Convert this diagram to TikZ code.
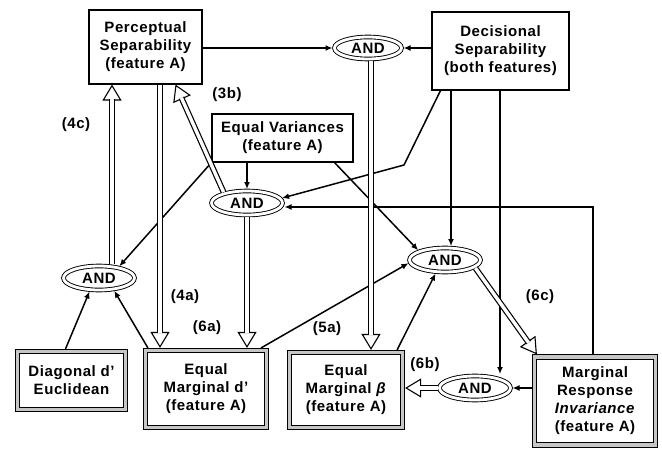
\documentclass[tikz,border=0pt]{standalone}
\usepackage{fontspec}
\setmainfont{Liberation Sans}[LetterSpace=4]
\usetikzlibrary{arrows.meta,shapes.geometric,calc}
\newcommand\hol[2]{%
  \draw[line width=1.1pt,-{Triangle[length=16pt,width=19pt,fill=white]}] #1 -- #2;
  \draw[line width=1.2pt,double=white,double distance=3.4pt,shorten >=14.5pt] #1 -- #2;
}
\begin{document}
\begin{tikzpicture}[x=1pt,y=-1pt,
  every node/.style={font=\bfseries\fontsize{15}{18}\selectfont, align=center, inner sep=0pt},
  box/.style={draw, line width=1.1pt, rectangle},
  fbox/.style={draw, line width=0.9pt, double=gray!45, double distance=3.6pt, rectangle, outer sep=2.6pt},
  andn/.style={ellipse, draw, line width=0.9pt, double, double distance=2.8pt, minimum width=71pt, minimum height=24pt, outer sep=2pt},
  arr/.style={line width=1.5pt, -{Latex[length=7pt,width=6pt]}},
]
\useasboundingbox (0,0) rectangle (662,452);
% boxes
\node[box, minimum width=113pt, minimum height=74pt] (ps) at (145.5,47) {Perceptual\\Separability\\(feature A)};
\node[box, minimum width=137pt, minimum height=78pt] (ds) at (500.5,51) {Decisional\\Separability\\(both features)};
\node[box, minimum width=141pt, minimum height=48pt] (ev) at (282.5,138) {Equal Variances\\(feature A)};
\node[fbox, minimum width=108pt, minimum height=58pt] (dg) at (71.5,380.5) {Diagonal d'\\Euclidean};
\node[fbox, minimum width=121pt, minimum height=77pt] (eqd) at (206,389) {Equal\\Marginal d'\\(feature A)};
\node[fbox, minimum width=113pt, minimum height=75pt] (eqb) at (346,390) {Equal\\Marginal \textit{β}\\(feature A)};
\node[fbox, minimum width=121pt, minimum height=88pt] (mri) at (595,401) {Marginal\\Response\\\textit{Invariance}\\(feature A)};
% AND nodes
\node[andn, minimum width=67pt, minimum height=22pt] (andT) at (368,48) {AND};
\node[andn] (andM) at (247,203) {AND};
\node[andn] (andR) at (445,260) {AND};
\node[andn] (andL) at (99,278) {AND};
\node[andn] (andB) at (475,388) {AND};
% helper coordinates
\coordinate (p1) at ([xshift=14.5pt]ps.south);
\coordinate (p2) at ([xshift=13pt]andL.north);
\coordinate (p3) at ([xshift=3pt]andT.south);
\coordinate (bend1) at (404,165);
% single arrows
\draw[arr] (andT.west -| ps.east) -- (andT.west);
\draw[arr] (andT.east -| ds.west) -- (andT.east);
\draw[arr] (andM.north |- ev.south) -- (andM.north);
\draw[arr] (ev.south west) -- (andL.30);
\draw[arr] ([xshift=-6pt]dg.north) -- (andL.235);
\draw[arr] ([xshift=5pt]eqd.north west) -- (andL.-40);
\draw[arr] ([xshift=-8pt]eqd.north east) -- (andR.185);
\draw[arr] ([xshift=-8pt]eqb.north east) -- (andR.235);
\draw[arr] ([xshift=52pt]ev.south) -- (andR.160);
\draw[arr] ([xshift=-60pt]ds.south) -- (bend1) -- (andM.8);
\draw[arr] ([xshift=-49.5pt]ds.south) -- ([xshift=6pt]andR.north);
\draw[arr] ([xshift=-0.5pt]ds.south) -- ([xshift=25pt]andB.north);
\draw[arr] ([xshift=-2pt]mri.north) |- ([yshift=-4pt]andM.east);
\draw[arr] (andB.east -| mri.west) -- (andB.east);
% hollow arrows
\hol{(p3)}{(p3 |- eqb.north)}
\hol{(p1)}{(p1 |- eqd.north)}
\hol{(p2)}{(p2 |- ps.south)}
\hol{(andM.155)}{([xshift=30pt]ps.south)}
\hol{(andM.south)}{(andM.south |- eqd.north)}
\hol{(andB.west)}{(andB.west -| eqb.east)}
\hol{(andR.-15)}{([xshift=5pt]mri.north west)}
% labels
\node (l3b) at (227,95) {(3b)};
\node (l4c) at (76,125) {(4c)};
\node (l4a) at (185,297) {(4a)};
\node (l6a) at (207,328) {(6a)};
\node (l5a) at (327,329) {(5a)};
\node (l6b) at (425,365) {(6b)};
\node (l6c) at (540,297) {(6c)};
\end{tikzpicture}
\end{document}
